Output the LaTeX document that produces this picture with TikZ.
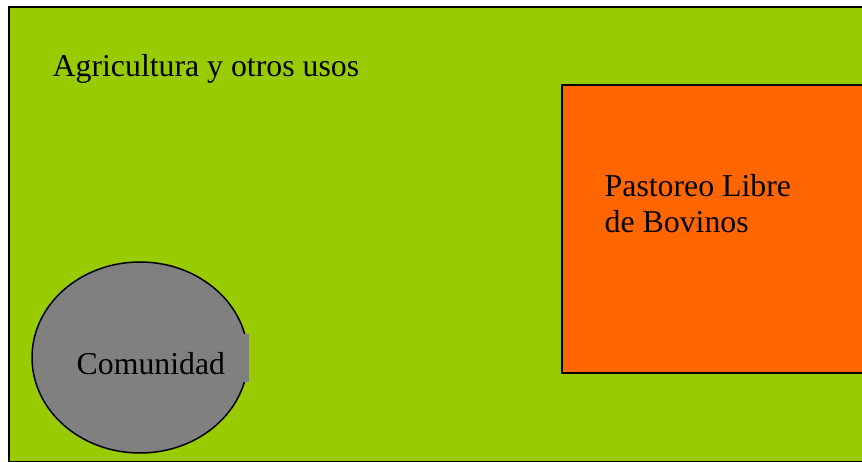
\documentclass[tikz,border=0pt]{standalone}
\usepackage{fontspec}
\setmainfont{Liberation Serif}
\usetikzlibrary{shapes.geometric}

\definecolor{agrogreen}{HTML}{99CC00}
\definecolor{pastorange}{HTML}{FF6600}
\definecolor{comugray}{HTML}{808080}

\begin{document}
\begin{tikzpicture}[
    x=1pt, y=-1pt,
    zone/.style={rectangle, draw=black, line width=2pt, inner sep=0pt, anchor=north west},
    label/.style={anchor=base west, inner sep=0pt, align=left, font=\fontsize{31.8}{36.7}\selectfont}
]
\useasboundingbox (0,0) rectangle (862,462);

% Zones
\node[zone, fill=agrogreen, minimum width=860pt, minimum height=454.5pt] (agricultura) at (8,6) {};
\node[zone, fill=pastorange, minimum width=306pt, minimum height=288pt] (pastoreo) at (560.5,84) {};
\node[ellipse, draw=black, line width=1.5pt, fill=comugray, minimum width=216pt, minimum height=191pt, inner sep=0pt] (comunidad) at (140,357.5) {};
\node[rectangle, fill=comugray, inner sep=0pt, minimum width=179pt, minimum height=48pt, anchor=north west] (comunidadbox) at (70,334) {};

% Labels
\node[label] (agritext) at (52.5,77) {Agricultura y otros usos};
\node[label] (pastotext) at (604.5,233) {Pastoreo Libre\\de Bovinos};
\node[label] (comutext) at (76.5,374) {Comunidad};

\end{tikzpicture}
\end{document}
